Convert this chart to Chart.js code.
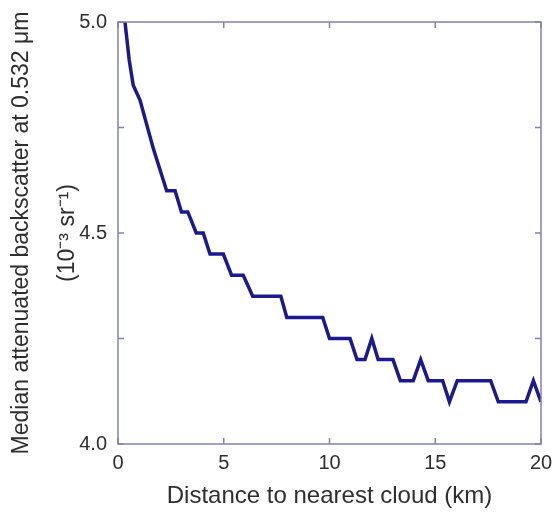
<!DOCTYPE html>
<html>
<head>
<meta charset="utf-8">
<script src="https://cdn.jsdelivr.net/npm/chart.js@4/dist/chart.umd.min.js"></script>
<style>
  html, body { margin: 0; padding: 0; background: #fff; }
  #wrap { width: 553px; height: 514px; }
</style>
</head>
<body>
<div id="wrap"><canvas id="cloudChart" width="553" height="514"></canvas></div>
<script>
// distance to nearest cloud (km) and median backscatter (10^-3 sr^-1)
const distanceKm = [0.33, 0.53, 0.72, 1.04, 1.67, 2.3, 2.7, 3.0, 3.3, 3.7, 4.03, 4.35, 4.98, 5.37, 5.92, 6.37,
    7.7, 7.98, 9.68, 10.0, 10.97, 11.3, 11.68, 12.0, 12.3, 13.0, 13.35, 13.96, 14.31, 14.67, 15.35, 15.67,
    16.04, 17.62, 17.98, 19.29, 19.64, 20.0];
const backscatter = [5.0, 4.91, 4.85, 4.815, 4.70, 4.60, 4.60, 4.55, 4.55, 4.50, 4.50, 4.45, 4.45, 4.40, 4.40, 4.35,
    4.35, 4.30, 4.30, 4.25, 4.25, 4.20, 4.20, 4.25, 4.20, 4.20, 4.15, 4.15, 4.20, 4.15, 4.15, 4.10,
    4.15, 4.15, 4.10, 4.10, 4.15, 4.10];
const xTicks = [0, 5, 10, 15, 20];
const yTicks = [4.0, 4.25, 4.5, 4.75, 5.0];

const frameColor = '#8282b4';
const textColor = '#2e2e2e';
const fontFamily = 'Liberation Sans, Arial, sans-serif';

// box around the plot with inward tick marks on all four sides
const framePlugin = {
    id: 'frame',
    afterDatasetsDraw(chart) {
        const { ctx, chartArea: a, scales } = chart;
        const len = 6;
        ctx.save();
        ctx.strokeStyle = frameColor;
        ctx.lineWidth = 1.5;
        ctx.strokeRect(a.left, a.top, a.right - a.left, a.bottom - a.top);
        ctx.beginPath();
        xTicks.forEach(v => {
            const px = scales.x.getPixelForValue(v);
            ctx.moveTo(px, a.bottom); ctx.lineTo(px, a.bottom - len);
            ctx.moveTo(px, a.top); ctx.lineTo(px, a.top + len);
        });
        yTicks.forEach(v => {
            const py = scales.y.getPixelForValue(v);
            ctx.moveTo(a.left, py); ctx.lineTo(a.left + len, py);
            ctx.moveTo(a.right, py); ctx.lineTo(a.right - len, py);
        });
        ctx.stroke();
        ctx.restore();
    }
};

new Chart(document.getElementById('cloudChart').getContext('2d'), {
    type: 'line',
    data: {
        datasets: [{
            data: distanceKm.map((d, i) => ({ x: d, y: backscatter[i] })),
            borderColor: '#1a1a8e',
            borderWidth: 3.5,
            pointRadius: 0,
            tension: 0,
            fill: false
        }]
    },
    options: {
        responsive: false,
        animation: false,
        devicePixelRatio: 1,
        layout: { padding: { top: 22, right: 12, left: 0, bottom: 0 } },
        plugins: {
            legend: { display: false },
            tooltip: { enabled: false }
        },
        scales: {
            x: {
                type: 'linear',
                min: 0,
                max: 20,
                afterBuildTicks(scale) { scale.ticks = xTicks.map(v => ({ value: v })); },
                afterFit(scale) {
                    scale.height = 70;
                    scale.paddingLeft = 0;
                    scale.paddingRight = 0;
                },
                grid: { display: false, drawTicks: false },
                border: { display: false },
                ticks: {
                    padding: 7,
                    color: textColor,
                    font: { family: fontFamily, size: 20 },
                    maxRotation: 0
                },
                title: {
                    display: true,
                    text: 'Distance to nearest cloud (km)',
                    color: textColor,
                    font: { family: fontFamily, size: 24 },
                    padding: { top: 0, bottom: 3 }
                }
            },
            y: {
                min: 4.0,
                max: 5.0,
                afterBuildTicks(scale) { scale.ticks = yTicks.map(v => ({ value: v })); },
                afterFit(scale) {
                    scale.width = 118;
                    scale.paddingTop = 0;
                    scale.paddingBottom = 0;
                },
                grid: { display: false, drawTicks: false },
                border: { display: false },
                ticks: {
                    padding: 11,
                    color: textColor,
                    font: { family: fontFamily, size: 20 },
                    callback: v => (Math.abs(v * 2 - Math.round(v * 2)) < 1e-6 ? v.toFixed(1) : '')
                },
                title: {
                    display: true,
                    text: ['Median attenuated backscatter at 0.532 \u03bcm', '(10\u207b\u00b3 sr\u207b\u00b9)'],
                    color: textColor,
                    font: { family: fontFamily, size: 23, lineHeight: '46px' },
                    padding: { top: -1, bottom: 0 }
                }
            }
        }
    },
    plugins: [framePlugin]
});
</script>
</body>
</html>
